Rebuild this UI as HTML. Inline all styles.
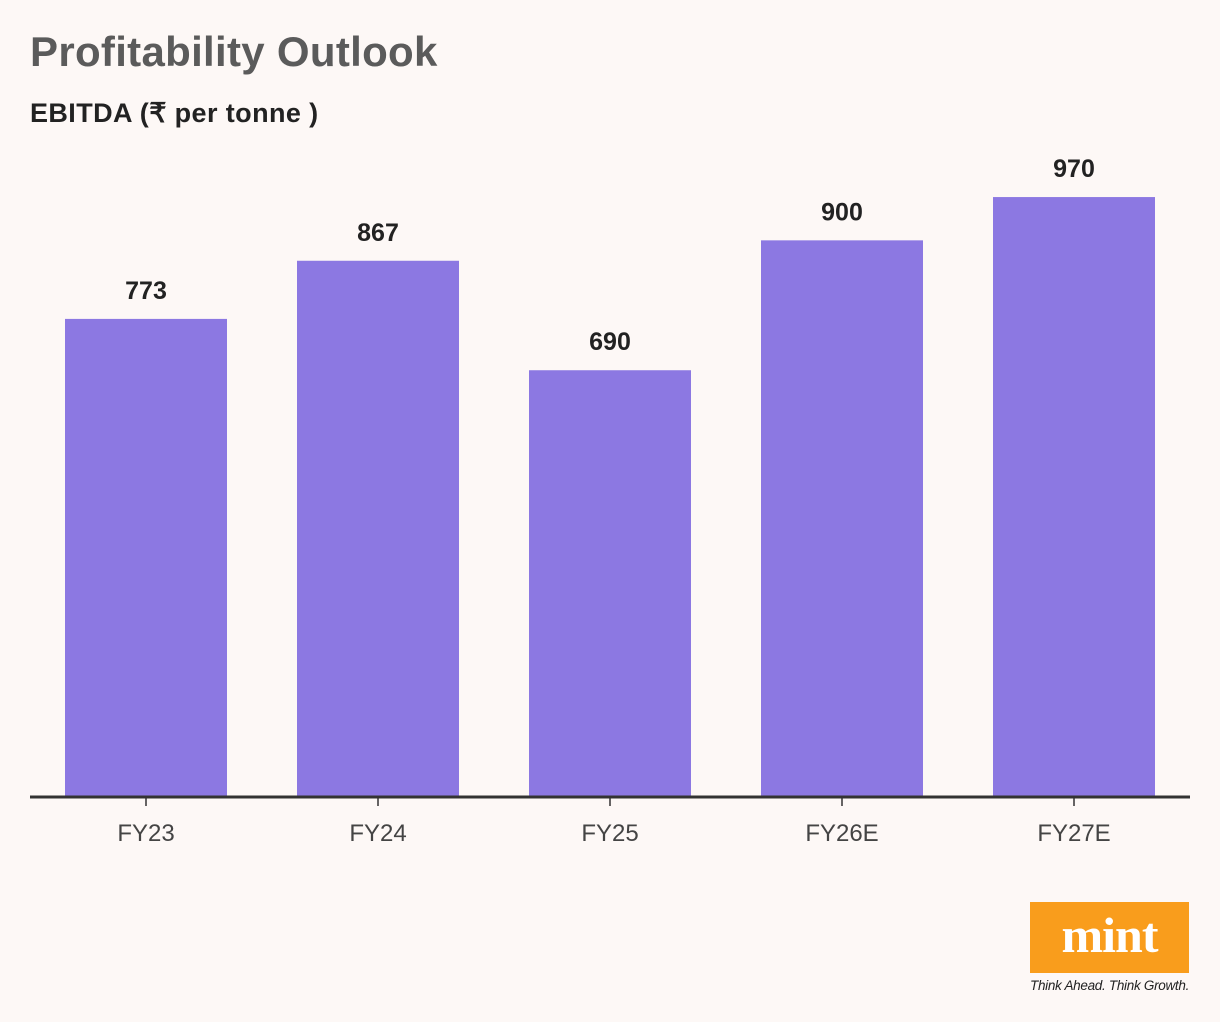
<!DOCTYPE html>
<html><head><meta charset="utf-8"><style>
body{margin:0;width:1220px;height:1022px;background:#fdf8f6;font-family:"Liberation Sans",sans-serif;position:relative;overflow:hidden}
.t{position:absolute;white-space:nowrap}
</style></head><body>
<div class="t" style="left:30px;top:28px;font-size:42px;font-weight:bold;color:#5b5b5b;letter-spacing:0.3px">Profitability Outlook</div>
<div class="t" style="left:30px;top:98px;font-size:27px;font-weight:bold;color:#222;letter-spacing:0.4px">EBITDA (₹ per tonne )</div>
<svg id="chart" width="1220" height="900" style="position:absolute;left:0;top:0"></svg>
<div style="position:absolute;left:1030px;top:902px;width:159px;height:71px;background:#f99d1c;color:#fff;font-family:'Liberation Serif',serif;font-weight:bold;font-size:50px;text-align:center;line-height:66px;letter-spacing:-1px">mint</div>
<div class="t" style="left:1030px;top:978px;font-size:13.5px;font-style:italic;color:#222;letter-spacing:-0.3px">Think Ahead. Think Growth.</div>
<script>
const categories=["FY23","FY24","FY25","FY26E","FY27E"];
const values=[773,867,690,900,970];
const svg=document.getElementById('chart');
const NS='http://www.w3.org/2000/svg';
const base=797,scale=0.6185;
const y=v=>base-v*scale;
const xc=i=>146+i*232;
function mk(t,a){const e=document.createElementNS(NS,t);for(const k in a)e.setAttribute(k,a[k]);svg.appendChild(e);return e;}
categories.forEach((c,i)=>{
  const b=mk('rect',{x:xc(i)-81,y:y(values[i]),width:162,height:base-y(values[i]),fill:'#8c78e2'});
  
  
  const v=mk('text',{x:xc(i),y:y(values[i])-20,'text-anchor':'middle','font-size':25,'font-weight':'bold',fill:'#222','font-family':'Liberation Sans'});
  v.textContent=values[i];
  
  
  const tk=mk('line',{x1:xc(i),x2:xc(i),y1:base,y2:806,stroke:'#333','stroke-width':1.5});
  
  
  const l=mk('text',{x:xc(i),y:841,'text-anchor':'middle','font-size':24,fill:'#444','font-family':'Liberation Sans'});
  l.textContent=c;
  
  
});
const ax=mk('line',{x1:30,x2:1190,y1:797,y2:797,stroke:'#333','stroke-width':3});


</script>
</body></html>
